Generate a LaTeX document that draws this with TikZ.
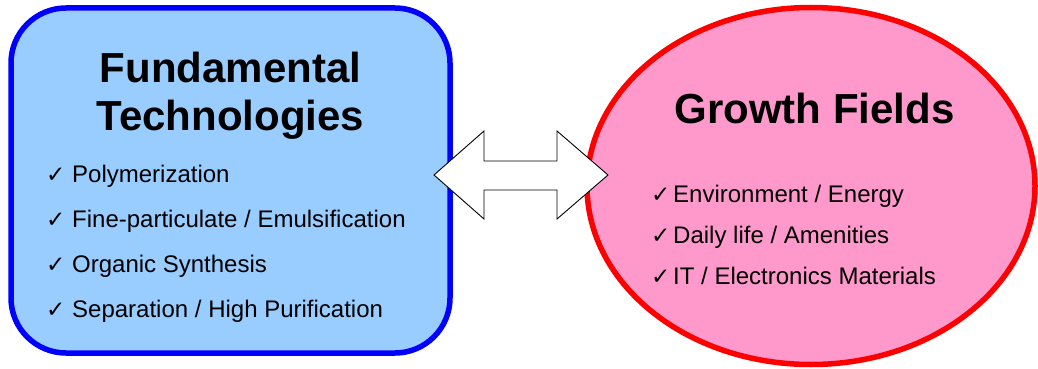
\documentclass[tikz,border=0pt]{standalone}
\usepackage{fontspec}
\setmainfont{Liberation Sans}
\newfontfamily\checkfont{DejaVu Sans}
\usepackage{xcolor}
\usetikzlibrary{shapes,positioning}
\definecolor{fundblue}{HTML}{99CCFF}
\definecolor{growthpink}{HTML}{FF99CC}
\newcommand{\chk}{{\checkfont\fontsize{23}{23}\selectfont ✓}}

\begin{document}
\begin{tikzpicture}[x=1pt,y=-1pt,
  heading/.style={align=center,anchor=base,inner sep=0pt,font=\fontsize{42}{48}\selectfont\bfseries},
  items/.style={anchor=base west,inner sep=0pt,font=\fontsize{24}{28}\selectfont}]
\useasboundingbox (0,0) rectangle (1038,369);
\node[draw=blue,line width=5.5pt,fill=fundblue,rounded corners=55pt,minimum width=439pt,minimum height=345pt,inner sep=0pt] (fund) at (230.5,180.5) {};
\node[ellipse,draw=red,line width=5.5pt,fill=growthpink,minimum width=448pt,minimum height=357pt,inner sep=0pt] (growth) at (811,186) {};
\coordinate (link) at (521,175);
\draw[fill=white,line width=0.9pt] (link) ++(-87,0) -- ++(50,-44) -- ++(0,30) -- ++(73,0) -- ++(0,-30)
  -- ++(51,44) -- ++(-51,44) -- ++(0,-29) -- ++(-73,0) -- ++(0,29) -- cycle;
% base of a two-line node is the last line
\node[heading] (fundtitle) at (230.5,130) {Fundamental\\Technologies};
\foreach \txt [count=\i] in {Polymerization,Fine-particulate / Emulsification,Organic Synthesis,Separation / High Purification}
  \node[items] (fund\i) at (46,137+45*\i) {\makebox[26pt][l]{\chk}\txt};
\node[heading] (growthtitle) at (814.5,123) {Growth Fields};
\foreach \txt [count=\i] in {Environment / Energy,Daily life / Amenities,IT / Electronics Materials}
  \node[items] (growth\i) at (651,161+41*\i) {\makebox[22pt][l]{\chk}\txt};
\end{tikzpicture}
\end{document}
